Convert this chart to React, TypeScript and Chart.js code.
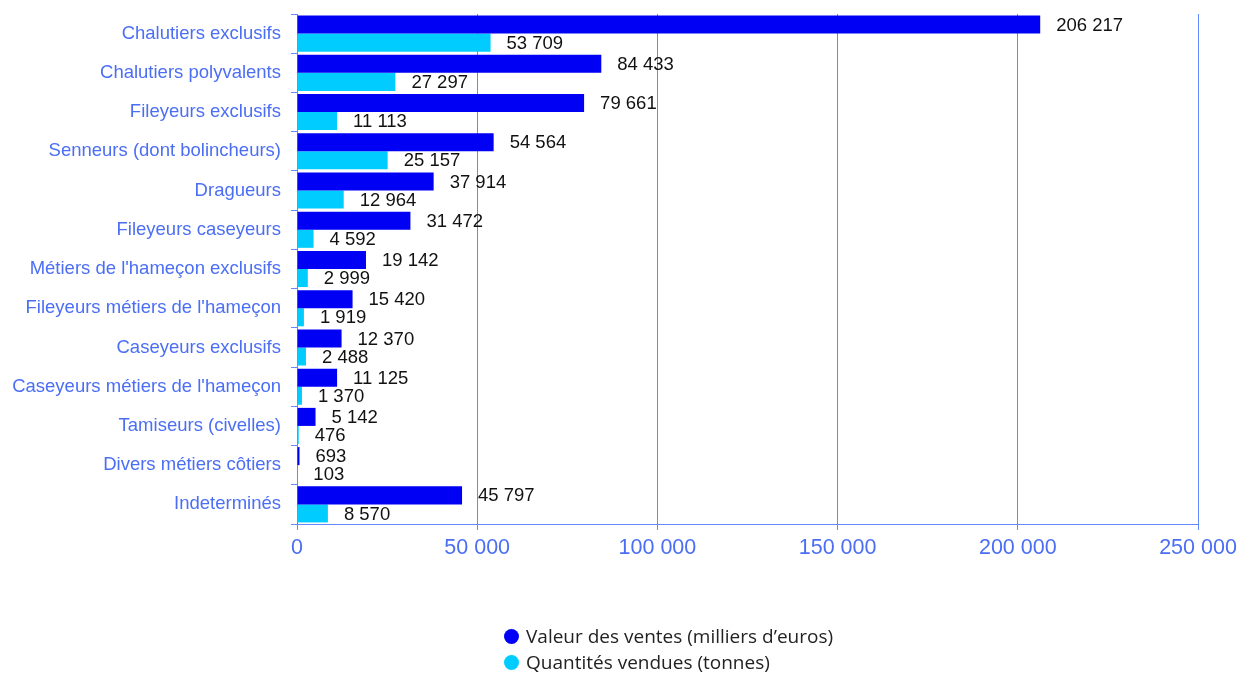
import React, { useEffect, useRef } from "react";
import { Chart, registerables } from "chart.js";

Chart.register(...registerables);

const categories = [
  "Chalutiers exclusifs",
  "Chalutiers polyvalents",
  "Fileyeurs exclusifs",
  "Senneurs (dont bolincheurs)",
  "Dragueurs",
  "Fileyeurs caseyeurs",
  "Métiers de l'hameçon exclusifs",
  "Fileyeurs métiers de l'hameçon",
  "Caseyeurs exclusifs",
  "Caseyeurs métiers de l'hameçon",
  "Tamiseurs (civelles)",
  "Divers métiers côtiers",
  "Indeterminés",
];

const valeurVentes = [206217, 84433, 79661, 54564, 37914, 31472, 19142, 15420, 12370, 11125, 5142, 693, 45797];
const quantitesVendues = [53709, 27297, 11113, 25157, 12964, 4592, 2999, 1919, 2488, 1370, 476, 103, 8570];

const seriesNames = ["Valeur des ventes (milliers d\u2019euros)", "Quantités vendues (tonnes)"];
const seriesColors = ["#0000f5", "#00ccff"];

const AXIS_BLUE = "#6488ff";
const TEXT_BLUE = "#4b6ef5";
const FONT = "'Liberation Sans', Arial, sans-serif";

function fmt(v: number): string {
  const s = Math.round(v).toString();
  return s.replace(/\B(?=(\d{3})+(?!\d))/g, " ");
}

const valueLabels = {
  id: "valueLabels",
  afterDatasetsDraw(chart: any) {
    const ctx = chart.ctx;
    ctx.save();
    ctx.font = `18.5px ${FONT}`;
    ctx.fillStyle = "#111111";
    ctx.textAlign = "left";
    ctx.textBaseline = "middle";
    chart.data.datasets.forEach((ds: any, di: number) => {
      const meta = chart.getDatasetMeta(di);
      meta.data.forEach((el: any, i: number) => {
        ctx.fillText(fmt(ds.data[i]), el.x + 16, el.y + 1);
      });
    });
    ctx.restore();
  },
};

export default function App() {
  const ref = useRef<HTMLCanvasElement | null>(null);

  useEffect(() => {
    if (!ref.current) return;
    const chart = new Chart(ref.current, {
      type: "bar",
      data: {
        labels: categories,
        datasets: [
          {
            label: seriesNames[0],
            data: valeurVentes,
            backgroundColor: seriesColors[0],
            categoryPercentage: 0.92,
            barPercentage: 1,
          },
          {
            label: seriesNames[1],
            data: quantitesVendues,
            backgroundColor: seriesColors[1],
            categoryPercentage: 0.92,
            barPercentage: 1,
          },
        ],
      },
      options: {
        indexAxis: "y",
        animation: false,
        responsive: false,
        maintainAspectRatio: false,
        layout: { padding: { top: 14, right: 42, bottom: 99, left: 0 } },
        plugins: {
          legend: { display: false },
          tooltip: { enabled: false },
        },
        scales: {
          x: {
            min: 0,
            max: 250000,
            ticks: {
              stepSize: 50000,
              color: TEXT_BLUE,
              font: { family: FONT, size: 21.5 },
              padding: 5,
              maxRotation: 0,
              callback: (v: any) => fmt(Number(v)),
            },
            grid: { color: AXIS_BLUE, tickLength: 6, lineWidth: 1 },
            border: { color: AXIS_BLUE },
            afterFit: (s: any) => {
              s.height = 50;
              s.paddingLeft = 0;
              s.paddingRight = 0;
            },
          },
          y: {
            ticks: {
              color: TEXT_BLUE,
              font: { family: FONT, size: 18.5 },
              padding: 10,
              autoSkip: false,
            },
            grid: { offset: true, drawOnChartArea: false, tickLength: 6, color: AXIS_BLUE },
            border: { color: AXIS_BLUE },
            afterFit: (s: any) => {
              s.width = 297;
              s.paddingTop = 0;
              s.paddingBottom = 0;
            },
          },
        },
      },
      plugins: [valueLabels],
    });
    return () => chart.destroy();
  }, []);

  return (
    <div style={{ position: "absolute", left: 0, top: 0, width: 1240, height: 673, background: "#fff" }}>
      <canvas ref={ref} width={1240} height={673} style={{ display: "block", width: 1240, height: 673 }} />
      <div
        style={{
          position: "absolute",
          left: 504,
          top: 623,
          fontFamily: "'Open Sans', Lato, sans-serif",
          fontSize: 19,
          color: "#222",
          lineHeight: "26px",
        }}
      >
        {seriesNames.map((n, i) => (
          <div key={n} style={{ display: "flex", alignItems: "center", whiteSpace: "nowrap" }}>
            <span
              style={{
                display: "inline-block",
                width: 15,
                height: 15,
                borderRadius: "50%",
                background: seriesColors[i],
                marginRight: 7,
              }}
            />
            <span>{n}</span>
          </div>
        ))}
      </div>
    </div>
  );
}
